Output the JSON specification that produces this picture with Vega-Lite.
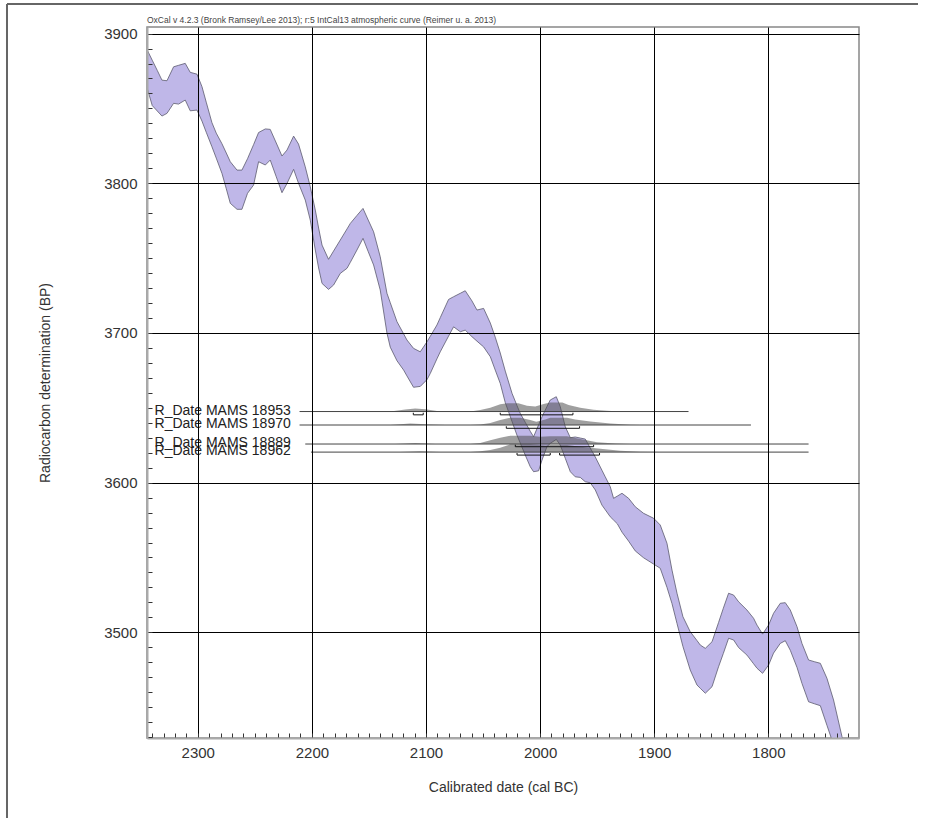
{
  "$schema": "https://vega.github.io/schema/vega-lite/v6.json",
  "width": 712,
  "height": 711,
  "autosize": {"type": "none"},
  "padding": {"left": 147, "top": 27, "right": 70, "bottom": 80},
  "background": "white",
  "config": {
    "view": {"stroke": "#888", "strokeWidth": 1.5},
    "font": "Liberation Sans",
    "axis": {"labelFont": "Liberation Sans", "titleFont": "Liberation Sans"}
  },
  "datasets": {
    "curve": [
      {"year": 2344.3, "hi": 3889.0, "lo": 3863.4},
      {"year": 2339.9, "hi": 3882.2, "lo": 3851.9},
      {"year": 2335.5, "hi": 3875.4, "lo": 3848.3},
      {"year": 2331.4, "hi": 3868.9, "lo": 3844.9},
      {"year": 2327.0, "hi": 3868.5, "lo": 3846.7},
      {"year": 2321.2, "hi": 3877.8, "lo": 3853.4},
      {"year": 2316.8, "hi": 3878.8, "lo": 3852.9},
      {"year": 2311.0, "hi": 3880.1, "lo": 3855.6},
      {"year": 2306.6, "hi": 3874.1, "lo": 3848.4},
      {"year": 2300.7, "hi": 3872.9, "lo": 3848.9},
      {"year": 2296.3, "hi": 3864.5, "lo": 3841.5},
      {"year": 2292.6, "hi": 3854.2, "lo": 3834.1},
      {"year": 2287.6, "hi": 3840.5, "lo": 3824.4},
      {"year": 2283.8, "hi": 3833.5, "lo": 3816.8},
      {"year": 2278.8, "hi": 3826.4, "lo": 3806.6},
      {"year": 2275.0, "hi": 3820.2, "lo": 3796.3},
      {"year": 2271.5, "hi": 3814.4, "lo": 3786.6},
      {"year": 2265.6, "hi": 3808.8, "lo": 3782.6},
      {"year": 2261.3, "hi": 3808.8, "lo": 3782.6},
      {"year": 2256.4, "hi": 3816.4, "lo": 3793.3},
      {"year": 2251.1, "hi": 3825.8, "lo": 3798.8},
      {"year": 2246.7, "hi": 3833.9, "lo": 3814.4},
      {"year": 2240.8, "hi": 3836.3, "lo": 3812.2},
      {"year": 2236.5, "hi": 3836.0, "lo": 3815.5},
      {"year": 2231.2, "hi": 3826.9, "lo": 3804.3},
      {"year": 2226.2, "hi": 3818.2, "lo": 3793.7},
      {"year": 2221.8, "hi": 3822.2, "lo": 3799.9},
      {"year": 2216.0, "hi": 3831.5, "lo": 3809.3},
      {"year": 2211.7, "hi": 3826.2, "lo": 3800.0},
      {"year": 2205.8, "hi": 3811.0, "lo": 3788.8},
      {"year": 2201.4, "hi": 3797.7, "lo": 3775.4},
      {"year": 2197.0, "hi": 3782.1, "lo": 3755.4},
      {"year": 2194.1, "hi": 3770.1, "lo": 3743.4},
      {"year": 2191.1, "hi": 3758.7, "lo": 3733.1},
      {"year": 2185.4, "hi": 3749.2, "lo": 3729.1},
      {"year": 2181.0, "hi": 3754.7, "lo": 3732.0},
      {"year": 2175.1, "hi": 3762.1, "lo": 3739.8},
      {"year": 2169.2, "hi": 3769.5, "lo": 3743.2},
      {"year": 2166.3, "hi": 3773.2, "lo": 3747.2},
      {"year": 2160.5, "hi": 3778.5, "lo": 3755.4},
      {"year": 2155.2, "hi": 3783.2, "lo": 3763.2},
      {"year": 2150.6, "hi": 3775.4, "lo": 3754.3},
      {"year": 2145.9, "hi": 3767.6, "lo": 3745.4},
      {"year": 2140.1, "hi": 3750.9, "lo": 3728.7},
      {"year": 2134.2, "hi": 3726.5, "lo": 3699.9},
      {"year": 2131.3, "hi": 3720.2, "lo": 3690.5},
      {"year": 2125.4, "hi": 3707.5, "lo": 3681.4},
      {"year": 2119.6, "hi": 3699.4, "lo": 3675.2},
      {"year": 2116.7, "hi": 3695.3, "lo": 3671.3},
      {"year": 2110.9, "hi": 3689.7, "lo": 3663.7},
      {"year": 2105.0, "hi": 3687.4, "lo": 3664.3},
      {"year": 2099.1, "hi": 3694.1, "lo": 3668.8},
      {"year": 2096.2, "hi": 3697.8, "lo": 3673.0},
      {"year": 2090.4, "hi": 3705.3, "lo": 3682.7},
      {"year": 2087.5, "hi": 3710.2, "lo": 3687.4},
      {"year": 2080.2, "hi": 3722.4, "lo": 3697.9},
      {"year": 2075.8, "hi": 3724.2, "lo": 3704.1},
      {"year": 2069.9, "hi": 3726.5, "lo": 3700.8},
      {"year": 2065.6, "hi": 3728.2, "lo": 3701.9},
      {"year": 2059.7, "hi": 3721.4, "lo": 3697.5},
      {"year": 2055.3, "hi": 3715.3, "lo": 3694.5},
      {"year": 2049.5, "hi": 3716.4, "lo": 3690.7},
      {"year": 2043.6, "hi": 3706.6, "lo": 3684.1},
      {"year": 2039.3, "hi": 3697.2, "lo": 3675.2},
      {"year": 2034.9, "hi": 3686.6, "lo": 3666.3},
      {"year": 2030.5, "hi": 3674.5, "lo": 3653.4},
      {"year": 2024.6, "hi": 3659.7, "lo": 3640.9},
      {"year": 2020.3, "hi": 3651.6, "lo": 3631.8},
      {"year": 2017.4, "hi": 3646.3, "lo": 3626.5},
      {"year": 2013.0, "hi": 3640.3, "lo": 3618.4},
      {"year": 2008.6, "hi": 3634.3, "lo": 3610.6},
      {"year": 2005.7, "hi": 3630.7, "lo": 3607.3},
      {"year": 2001.3, "hi": 3638.6, "lo": 3607.9},
      {"year": 1998.3, "hi": 3644.0, "lo": 3615.1},
      {"year": 1994.0, "hi": 3650.8, "lo": 3624.0},
      {"year": 1991.1, "hi": 3655.2, "lo": 3626.2},
      {"year": 1985.8, "hi": 3657.4, "lo": 3628.9},
      {"year": 1982.3, "hi": 3650.7, "lo": 3625.1},
      {"year": 1977.9, "hi": 3637.3, "lo": 3616.2},
      {"year": 1973.5, "hi": 3630.0, "lo": 3607.3},
      {"year": 1969.2, "hi": 3630.5, "lo": 3603.9},
      {"year": 1964.8, "hi": 3629.8, "lo": 3603.5},
      {"year": 1960.4, "hi": 3629.1, "lo": 3600.6},
      {"year": 1956.0, "hi": 3623.1, "lo": 3599.9},
      {"year": 1951.6, "hi": 3617.1, "lo": 3595.1},
      {"year": 1945.8, "hi": 3608.3, "lo": 3585.0},
      {"year": 1942.9, "hi": 3603.9, "lo": 3581.9},
      {"year": 1938.5, "hi": 3597.3, "lo": 3577.2},
      {"year": 1935.6, "hi": 3589.5, "lo": 3575.0},
      {"year": 1932.3, "hi": 3591.0, "lo": 3572.5},
      {"year": 1928.2, "hi": 3592.9, "lo": 3566.9},
      {"year": 1922.4, "hi": 3589.5, "lo": 3560.9},
      {"year": 1916.6, "hi": 3583.9, "lo": 3554.4},
      {"year": 1909.3, "hi": 3579.5, "lo": 3549.8},
      {"year": 1900.5, "hi": 3576.2, "lo": 3545.6},
      {"year": 1894.7, "hi": 3571.7, "lo": 3542.8},
      {"year": 1888.8, "hi": 3559.5, "lo": 3530.1},
      {"year": 1884.4, "hi": 3541.6, "lo": 3519.2},
      {"year": 1880.0, "hi": 3526.1, "lo": 3505.9},
      {"year": 1874.8, "hi": 3510.4, "lo": 3490.5},
      {"year": 1868.4, "hi": 3500.4, "lo": 3474.8},
      {"year": 1862.5, "hi": 3494.5, "lo": 3464.8},
      {"year": 1859.6, "hi": 3491.5, "lo": 3462.6},
      {"year": 1855.2, "hi": 3489.3, "lo": 3459.3},
      {"year": 1849.3, "hi": 3493.7, "lo": 3463.7},
      {"year": 1843.6, "hi": 3506.5, "lo": 3477.0},
      {"year": 1839.4, "hi": 3516.1, "lo": 3485.9},
      {"year": 1834.8, "hi": 3526.1, "lo": 3496.0},
      {"year": 1830.4, "hi": 3524.9, "lo": 3494.9},
      {"year": 1826.0, "hi": 3520.4, "lo": 3489.8},
      {"year": 1818.7, "hi": 3514.9, "lo": 3484.8},
      {"year": 1812.9, "hi": 3509.4, "lo": 3479.0},
      {"year": 1809.9, "hi": 3504.8, "lo": 3476.0},
      {"year": 1805.0, "hi": 3498.8, "lo": 3472.6},
      {"year": 1799.7, "hi": 3504.9, "lo": 3478.2},
      {"year": 1795.4, "hi": 3512.7, "lo": 3486.1},
      {"year": 1789.5, "hi": 3519.4, "lo": 3492.6},
      {"year": 1785.1, "hi": 3519.8, "lo": 3494.4},
      {"year": 1780.7, "hi": 3514.9, "lo": 3488.0},
      {"year": 1774.8, "hi": 3503.7, "lo": 3476.5},
      {"year": 1770.5, "hi": 3492.6, "lo": 3465.9},
      {"year": 1764.7, "hi": 3481.5, "lo": 3453.6},
      {"year": 1759.7, "hi": 3480.4, "lo": 3452.3},
      {"year": 1754.4, "hi": 3479.3, "lo": 3451.0},
      {"year": 1748.6, "hi": 3469.3, "lo": 3437.9},
      {"year": 1742.8, "hi": 3454.8, "lo": 3424.9},
      {"year": 1735.4, "hi": 3430.3, "lo": 3408.0},
      {"year": 1731.6, "hi": 3420.0, "lo": 3398.0}
    ],
    "dists": [
      {"name": "R_Date MAMS 18953", "base": 3647.5, "year": 2131.3, "top": 3647.5},
      {"name": "R_Date MAMS 18953", "base": 3647.5, "year": 2118.1, "top": 3648.8},
      {"name": "R_Date MAMS 18953", "base": 3647.5, "year": 2109.4, "top": 3649.6},
      {"name": "R_Date MAMS 18953", "base": 3647.5, "year": 2100.6, "top": 3649.1},
      {"name": "R_Date MAMS 18953", "base": 3647.5, "year": 2087.5, "top": 3647.5},
      {"name": "R_Date MAMS 18953", "base": 3647.5, "year": 2061.2, "top": 3647.5},
      {"name": "R_Date MAMS 18953", "base": 3647.5, "year": 2052.4, "top": 3648.5},
      {"name": "R_Date MAMS 18953", "base": 3647.5, "year": 2043.6, "top": 3650.0},
      {"name": "R_Date MAMS 18953", "base": 3647.5, "year": 2034.9, "top": 3652.3},
      {"name": "R_Date MAMS 18953", "base": 3647.5, "year": 2028.7, "top": 3653.0},
      {"name": "R_Date MAMS 18953", "base": 3647.5, "year": 2019.1, "top": 3653.0},
      {"name": "R_Date MAMS 18953", "base": 3647.5, "year": 2011.5, "top": 3651.4},
      {"name": "R_Date MAMS 18953", "base": 3647.5, "year": 2004.2, "top": 3650.8},
      {"name": "R_Date MAMS 18953", "base": 3647.5, "year": 1996.9, "top": 3652.5},
      {"name": "R_Date MAMS 18953", "base": 3647.5, "year": 1991.1, "top": 3653.6},
      {"name": "R_Date MAMS 18953", "base": 3647.5, "year": 1980.5, "top": 3653.6},
      {"name": "R_Date MAMS 18953", "base": 3647.5, "year": 1975.0, "top": 3651.8},
      {"name": "R_Date MAMS 18953", "base": 3647.5, "year": 1964.8, "top": 3650.0},
      {"name": "R_Date MAMS 18953", "base": 3647.5, "year": 1953.1, "top": 3648.7},
      {"name": "R_Date MAMS 18953", "base": 3647.5, "year": 1941.4, "top": 3648.0},
      {"name": "R_Date MAMS 18953", "base": 3647.5, "year": 1929.7, "top": 3647.5},
      {"name": "R_Date MAMS 18970", "base": 3638.5, "year": 2131.3, "top": 3638.5},
      {"name": "R_Date MAMS 18970", "base": 3638.5, "year": 2113.8, "top": 3639.5},
      {"name": "R_Date MAMS 18970", "base": 3638.5, "year": 2096.2, "top": 3638.8},
      {"name": "R_Date MAMS 18970", "base": 3638.5, "year": 2083.1, "top": 3638.5},
      {"name": "R_Date MAMS 18970", "base": 3638.5, "year": 2061.2, "top": 3638.5},
      {"name": "R_Date MAMS 18970", "base": 3638.5, "year": 2052.4, "top": 3638.8},
      {"name": "R_Date MAMS 18970", "base": 3638.5, "year": 2043.6, "top": 3639.8},
      {"name": "R_Date MAMS 18970", "base": 3638.5, "year": 2034.9, "top": 3641.8},
      {"name": "R_Date MAMS 18970", "base": 3638.5, "year": 2026.1, "top": 3643.4},
      {"name": "R_Date MAMS 18970", "base": 3638.5, "year": 2017.4, "top": 3643.4},
      {"name": "R_Date MAMS 18970", "base": 3638.5, "year": 2008.6, "top": 3641.8},
      {"name": "R_Date MAMS 18970", "base": 3638.5, "year": 2003.3, "top": 3640.7},
      {"name": "R_Date MAMS 18970", "base": 3638.5, "year": 1995.4, "top": 3642.2},
      {"name": "R_Date MAMS 18970", "base": 3638.5, "year": 1991.1, "top": 3643.4},
      {"name": "R_Date MAMS 18970", "base": 3638.5, "year": 1976.4, "top": 3643.4},
      {"name": "R_Date MAMS 18970", "base": 3638.5, "year": 1969.2, "top": 3642.2},
      {"name": "R_Date MAMS 18970", "base": 3638.5, "year": 1956.0, "top": 3640.8},
      {"name": "R_Date MAMS 18970", "base": 3638.5, "year": 1938.5, "top": 3639.5},
      {"name": "R_Date MAMS 18970", "base": 3638.5, "year": 1920.9, "top": 3638.7},
      {"name": "R_Date MAMS 18970", "base": 3638.5, "year": 1912.2, "top": 3638.5},
      {"name": "R_Date MAMS 18889", "base": 3625.8, "year": 2126.9, "top": 3625.8},
      {"name": "R_Date MAMS 18889", "base": 3625.8, "year": 2109.4, "top": 3626.5},
      {"name": "R_Date MAMS 18889", "base": 3625.8, "year": 2091.9, "top": 3625.8},
      {"name": "R_Date MAMS 18889", "base": 3625.8, "year": 2061.2, "top": 3625.8},
      {"name": "R_Date MAMS 18889", "base": 3625.8, "year": 2052.4, "top": 3626.5},
      {"name": "R_Date MAMS 18889", "base": 3625.8, "year": 2043.6, "top": 3628.3},
      {"name": "R_Date MAMS 18889", "base": 3625.8, "year": 2034.9, "top": 3630.0},
      {"name": "R_Date MAMS 18889", "base": 3625.8, "year": 2026.1, "top": 3631.3},
      {"name": "R_Date MAMS 18889", "base": 3625.8, "year": 2008.6, "top": 3631.3},
      {"name": "R_Date MAMS 18889", "base": 3625.8, "year": 1999.8, "top": 3630.7},
      {"name": "R_Date MAMS 18889", "base": 3625.8, "year": 1991.1, "top": 3631.0},
      {"name": "R_Date MAMS 18889", "base": 3625.8, "year": 1976.4, "top": 3631.0},
      {"name": "R_Date MAMS 18889", "base": 3625.8, "year": 1964.8, "top": 3629.1},
      {"name": "R_Date MAMS 18889", "base": 3625.8, "year": 1950.1, "top": 3626.9},
      {"name": "R_Date MAMS 18889", "base": 3625.8, "year": 1934.1, "top": 3626.2},
      {"name": "R_Date MAMS 18889", "base": 3625.8, "year": 1920.9, "top": 3625.8},
      {"name": "R_Date MAMS 18962", "base": 3620.4, "year": 2122.5, "top": 3620.4},
      {"name": "R_Date MAMS 18962", "base": 3620.4, "year": 2105.0, "top": 3620.9},
      {"name": "R_Date MAMS 18962", "base": 3620.4, "year": 2087.5, "top": 3620.4},
      {"name": "R_Date MAMS 18962", "base": 3620.4, "year": 2061.2, "top": 3620.4},
      {"name": "R_Date MAMS 18962", "base": 3620.4, "year": 2052.4, "top": 3620.9},
      {"name": "R_Date MAMS 18962", "base": 3620.4, "year": 2043.6, "top": 3621.8},
      {"name": "R_Date MAMS 18962", "base": 3620.4, "year": 2034.9, "top": 3623.3},
      {"name": "R_Date MAMS 18962", "base": 3620.4, "year": 2026.1, "top": 3625.6},
      {"name": "R_Date MAMS 18962", "base": 3620.4, "year": 2008.6, "top": 3625.6},
      {"name": "R_Date MAMS 18962", "base": 3620.4, "year": 1995.4, "top": 3624.8},
      {"name": "R_Date MAMS 18962", "base": 3620.4, "year": 1991.1, "top": 3625.2},
      {"name": "R_Date MAMS 18962", "base": 3620.4, "year": 1976.4, "top": 3625.2},
      {"name": "R_Date MAMS 18962", "base": 3620.4, "year": 1964.8, "top": 3624.0},
      {"name": "R_Date MAMS 18962", "base": 3620.4, "year": 1947.2, "top": 3622.6},
      {"name": "R_Date MAMS 18962", "base": 3620.4, "year": 1929.7, "top": 3621.3},
      {"name": "R_Date MAMS 18962", "base": 3620.4, "year": 1912.2, "top": 3620.6},
      {"name": "R_Date MAMS 18962", "base": 3620.4, "year": 1894.7, "top": 3620.4}
    ],
    "dates": [
      {"name": "R_Date MAMS 18953", "bp": 3647.5, "from": 2210.8, "to": 1869.9},
      {"name": "R_Date MAMS 18970", "bp": 3638.5, "from": 2210.8, "to": 1815.2},
      {"name": "R_Date MAMS 18889", "bp": 3625.8, "from": 2205.8, "to": 1764.7},
      {"name": "R_Date MAMS 18962", "bp": 3620.4, "from": 2200.8, "to": 1764.7}
    ],
    "ranges": [
      {"name": "R_Date MAMS 18953", "bp": 3645.3, "from": 2111.1, "to": 2102.4},
      {"name": "R_Date MAMS 18953", "bp": 3645.3, "from": 2034.9, "to": 1971.2},
      {"name": "R_Date MAMS 18970", "bp": 3636.3, "from": 2029.6, "to": 1965.4},
      {"name": "R_Date MAMS 18889", "bp": 3624.0, "from": 2021.7, "to": 1953.1},
      {"name": "R_Date MAMS 18962", "bp": 3618.4, "from": 2020.2, "to": 1991.1},
      {"name": "R_Date MAMS 18962", "bp": 3618.4, "from": 1982.9, "to": 1947.9}
    ],
    "frame": [
      {"x1": 2467.2, "x2": 1668.8, "y1": 3919.8, "y2": 3919.8},
      {"x1": 2467.2, "x2": 2467.2, "y1": 3919.8, "y2": 3360.0}
    ],
    "header": [
      {"text": "OxCal v 4.2.3 (Bronk Ramsey/Lee 2013); r:5 IntCal13 atmospheric curve (Reimer u. a. 2013)", "year": 2344.5, "bp": 3904.4}
    ]
  },
  "layer": [
    {
      "data": {"name": "curve"},
      "mark": {"type": "area", "fill": "#bfb7e8", "stroke": "#5c5a6e", "strokeWidth": 0.8, "clip": true},
      "encoding": {
        "x": {
          "field": "year",
          "type": "quantitative",
          "scale": {"domain": [1720.5, 2344.5], "reverse": true, "nice": false, "zero": false},
          "axis": {
            "values": [1730,1740,1750,1760,1770,1780,1790,1800,1810,1820,1830,1840,1850,1860,1870,1880,1890,1900,1910,1920,1930,1940,1950,1960,1970,1980,1990,2000,2010,2020,2030,2040,2050,2060,2070,2080,2090,2100,2110,2120,2130,2140,2150,2160,2170,2180,2190,2200,2210,2220,2230,2240,2250,2260,2270,2280,2290,2300,2310,2320,2330,2340],
            "tickCount": 200,
            "format": "d",
            "labelExpr": "datum.value % 100 === 0 ? datum.label : ''",
            "labelOverlap": false,
            "grid": true,
            "gridColor": "#000000",
            "gridWidth": 1,
            "gridOpacity": {"condition": {"test": "datum.value % 100 === 0", "value": 1}, "value": 0},
            "tickSize": -5,
            "tickColor": "#333333",
            "tickWidth": 1,
            "domainColor": "#aaaaaa",
            "domainWidth": 2,
            "labelPadding": 12,
            "labelFontSize": 15,
            "labelColor": "#333333",
            "labelFlush": false,
            "title": "Calibrated date (cal BC)",
            "titleFontSize": 14,
            "titleFontWeight": "normal",
            "titleColor": "#333333",
            "titlePadding": 20,
            "zindex": 1
          }
        },
        "y": {
          "field": "hi",
          "type": "quantitative",
          "scale": {"domain": [3429.4, 3904.4], "nice": false, "zero": false},
          "axis": {
            "values": [3430,3440,3450,3460,3470,3480,3490,3500,3510,3520,3530,3540,3550,3560,3570,3580,3590,3600,3610,3620,3630,3640,3650,3660,3670,3680,3690,3700,3710,3720,3730,3740,3750,3760,3770,3780,3790,3800,3810,3820,3830,3840,3850,3860,3870,3880,3890,3900],
            "tickCount": 200,
            "format": "d",
            "labelExpr": "datum.value % 100 === 0 ? datum.label : ''",
            "labelOverlap": false,
            "grid": true,
            "gridColor": "#000000",
            "gridWidth": 1,
            "gridOpacity": {"condition": {"test": "datum.value % 100 === 0", "value": 1}, "value": 0},
            "tickSize": -5,
            "tickColor": "#333333",
            "tickWidth": 1,
            "domainColor": "#aaaaaa",
            "domainWidth": 2,
            "labelPadding": 15,
            "labelFontSize": 15,
            "labelColor": "#333333",
            "labelFlush": false,
            "title": "Radiocarbon determination (BP)",
            "titleFontSize": 14,
            "titleFontWeight": "normal",
            "titleColor": "#333333",
            "titlePadding": 51,
            "zindex": 1
          }
        },
        "y2": {"field": "lo"}
      }
    },
    {
      "data": {"name": "dists"},
      "mark": {"type": "area", "fill": "#505050", "fillOpacity": 0.55, "strokeWidth": 0},
      "encoding": {
        "x": {"field": "year", "type": "quantitative"},
        "y": {"field": "top", "type": "quantitative"},
        "y2": {"field": "base"},
        "detail": {"field": "name"}
      }
    },
    {
      "data": {"name": "dates"},
      "mark": {"type": "rule", "color": "#444444", "strokeWidth": 1},
      "encoding": {
        "x": {"field": "from", "type": "quantitative"},
        "x2": {"field": "to"},
        "y": {"field": "bp", "type": "quantitative"}
      }
    },
    {
      "data": {"name": "dates"},
      "mark": {"type": "text", "align": "right", "baseline": "middle", "fontSize": 14, "color": "#222222", "dy": -1},
      "encoding": {
        "x": {"datum": 2218.5, "type": "quantitative"},
        "y": {"field": "bp", "type": "quantitative"},
        "text": {"field": "name"}
      }
    },
    {
      "data": {"name": "ranges"},
      "mark": {"type": "rule", "color": "#111111", "strokeWidth": 1},
      "encoding": {
        "x": {"field": "from", "type": "quantitative"},
        "x2": {"field": "to"},
        "y": {"field": "bp", "type": "quantitative"}
      }
    },
    {
      "data": {"name": "ranges"},
      "mark": {"type": "tick", "orient": "vertical", "size": 2, "thickness": 1, "color": "#111111", "yOffset": -1, "opacity": 1},
      "encoding": {
        "x": {"field": "from", "type": "quantitative"},
        "y": {"field": "bp", "type": "quantitative"}
      }
    },
    {
      "data": {"name": "ranges"},
      "mark": {"type": "tick", "orient": "vertical", "size": 2, "thickness": 1, "color": "#111111", "yOffset": -1, "opacity": 1},
      "encoding": {
        "x": {"field": "to", "type": "quantitative"},
        "y": {"field": "bp", "type": "quantitative"}
      }
    },
    {
      "data": {"name": "frame"},
      "mark": {"type": "rule", "color": "#666666", "strokeWidth": 2, "clip": false},
      "encoding": {
        "x": {"field": "x1", "type": "quantitative"},
        "x2": {"field": "x2"},
        "y": {"field": "y1", "type": "quantitative"},
        "y2": {"field": "y2"}
      }
    },
    {
      "data": {"name": "header"},
      "mark": {"type": "text", "align": "left", "baseline": "bottom", "fontSize": 8.5, "color": "#444444", "dy": -2, "clip": false},
      "encoding": {
        "x": {"field": "year", "type": "quantitative"},
        "y": {"field": "bp", "type": "quantitative"},
        "text": {"field": "text"}
      }
    }
  ]
}
